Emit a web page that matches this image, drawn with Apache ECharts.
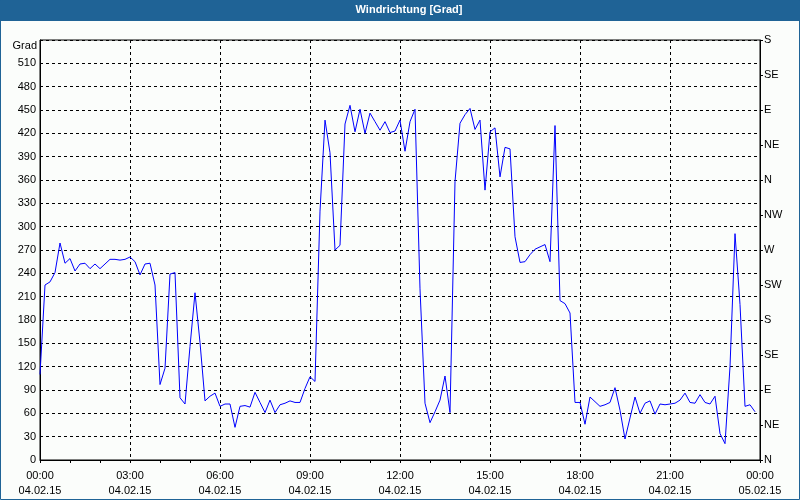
<!DOCTYPE html>
<html>
<head>
<meta charset="utf-8">
<script src="https://cdn.jsdelivr.net/npm/echarts@6/dist/echarts.min.js"></script>
<style>
html,body{margin:0;padding:0;background:#fbfdfb;}
#chart{width:800px;height:500px;}
</style>
</head>
<body>
<div id="chart"></div>
<script>
// Wind direction in degrees, one sample every 10 minutes from 04.02.15 00:00
var stepMinutes = 10;
var windDir = [
 110,225,229,241,279,253,259,243,252,253,
 246,252,246,252,258,258,257,258,261,255,
 238,252,253,225,97,118,239,241,80,72,
 146,215,151,76,82,86,69,72,72,42,
 69,70,68,87,74,61,77,61,71,73,
 76,74,74,92,107,101,320,437,395,270,
 276,432,456,422,451,420,446,435,424,435,
 421,423,437,397,435,451,220,73,48,62,
 77,108,61,358,433,444,452,425,437,347,
 422,427,364,402,400,287,254,255,264,271,
 274,277,255,430,205,201,189,74,74,46,
 81,75,69,71,74,93,64,27,54,81,
 60,73,76,59,72,71,72,73,77,86,
 74,73,84,74,72,82,34,21,120,291,
 200,69,71,62
];
var xTickLabels = ['00:00\n04.02.15','03:00\n04.02.15','06:00\n04.02.15','09:00\n04.02.15','12:00\n04.02.15','15:00\n04.02.15','18:00\n04.02.15','21:00\n04.02.15','00:00\n05.02.15'];
var compassLabels = ['N','NE','E','SE','S','SW','W','NW','N','NE','E','SE','S'];
var titleText = 'Windrichtung [Grad]';
var yUnit = 'Grad';

var seriesData = windDir.map(function(v,i){ return [i*stepMinutes, v]; });
var font = 'Liberation Sans';
var chart = echarts.init(document.getElementById('chart'), null, {renderer:'canvas'});
chart.setOption({
  backgroundColor:'#fbfdfb',
  animation:false,
  textStyle:{fontFamily:font},
  grid:{left:40,right:40,top:40,bottom:40,show:true,borderColor:'#000',borderWidth:1,backgroundColor:'transparent'},
  graphic:[
    {type:'rect',shape:{x:0,y:0,width:800,height:21},style:{fill:'#1f6396'},z:10},
    {type:'rect',shape:{x:0.5,y:0.5,width:799,height:499},style:{fill:null,stroke:'#1f6396',lineWidth:1},z:10},
    {type:'text',x:409,y:10,style:{text:titleText,fill:'#fff',font:'bold 11px "'+font+'"',textAlign:'center',textVerticalAlign:'middle'},z:11},
    {type:'text',x:37,y:46,style:{text:yUnit,fill:'#000',font:'11px "'+font+'"',textAlign:'right',textVerticalAlign:'middle'},z:11}
  ],
  xAxis:{
    type:'value',min:0,max:1440,interval:180,
    axisLine:{show:true,lineStyle:{color:'#000',width:1}},
    axisTick:{show:true,length:3,inside:false,lineStyle:{color:'#000'}},
    minorTick:{show:true,splitNumber:3,length:3,lineStyle:{color:'#000'}},
    splitLine:{show:true,lineStyle:{color:'#000',type:[3,3],width:1}},
    axisLabel:{margin:8,color:'#000',fontSize:11,fontFamily:font,lineHeight:15,
      formatter:function(v){return xTickLabels[Math.round(v/180)];}}
  },
  yAxis:[{
    type:'value',min:0,max:540,interval:30,position:'left',
    axisLine:{show:true,lineStyle:{color:'#000'}},
    axisTick:{show:false},
    splitLine:{show:true,lineStyle:{color:'#000',type:[3,3],width:1}},
    axisLabel:{margin:4,color:'#000',fontSize:11,fontFamily:font,
      formatter:function(v){return v===540?'':String(v);}}
  },{
    type:'value',min:0,max:540,interval:45,position:'right',
    axisLine:{show:true,lineStyle:{color:'#000'}},
    axisTick:{show:true,length:3,lineStyle:{color:'#000'}},
    splitLine:{show:false},
    axisLabel:{margin:4,color:'#000',fontSize:11,fontFamily:font,align:'left',
      formatter:function(v){return compassLabels[Math.round(v/45)];}}
  }],
  series:[{
    type:'line',data:seriesData,yAxisIndex:0,showSymbol:false,symbol:'none',
    lineStyle:{color:'#0000ff',width:1},smooth:false
  }]
});
</script>
</body>
</html>
